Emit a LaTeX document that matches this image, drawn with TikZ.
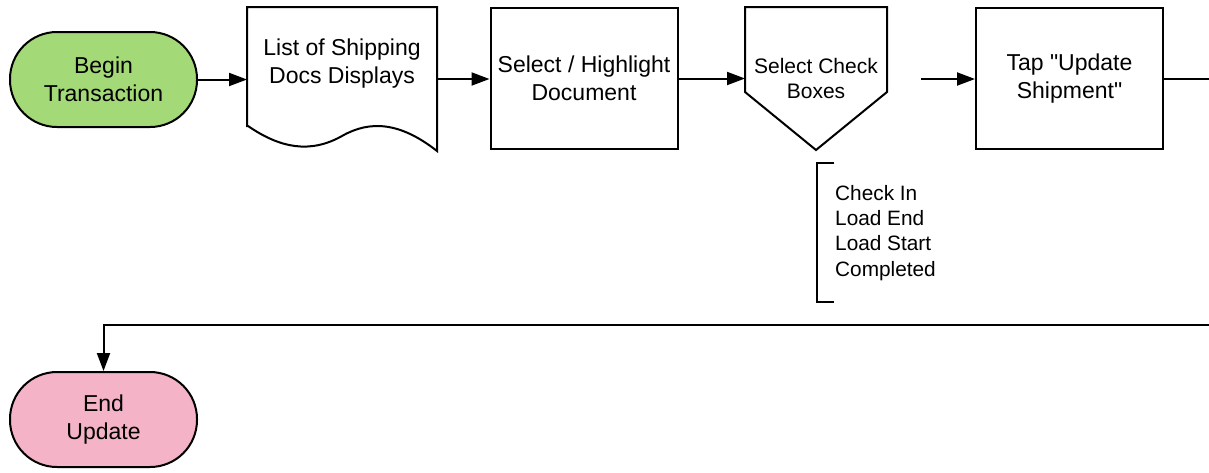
\documentclass[tikz,border=0pt]{standalone}
\usepackage{fontspec}
\setmainfont{Liberation Sans}
\newfontfamily\qfont{Liberation Sans}
\usetikzlibrary{arrows.meta,calc}
\definecolor{begingreen}{HTML}{A3D977}
\definecolor{endpink}{HTML}{F4B3C7}
\tikzset{
  base/.style={line width=2pt, font=\fontsize{23}{28}\selectfont, align=center, inner sep=0pt},
  terminal/.style={base, draw, rounded corners=47pt, minimum width=187pt, minimum height=95pt},
  procbox/.style={base, draw, minimum width=187pt, minimum height=141pt},
  frame/.style={base, minimum width=188pt, minimum height=142pt},
  shapeline/.style={line width=2pt, line join=miter},
  flow/.style={line width=2pt, -{Triangle[length=18pt,width=13pt]}},
  plainflow/.style={line width=2pt},
  notetext/.style={font=\fontsize{20.8}{25.3}\selectfont, align=left, inner sep=0pt},
}
\begin{document}
\begin{tikzpicture}[x=1pt,y=-1pt]
\useasboundingbox (0,0) rectangle (1209,472);
% nodes
\node[terminal, fill=begingreen] (begin) at (103.5,79.5) {Begin\\Transaction};
\node[frame] (list) at (342,79) {};
\node[base] (listtext) at (342,64) {List of Shipping\\Docs Displays};
\node[procbox] (sel) at (584,78.5) {Select / Highlight\\Document};
\node[base, minimum width=140pt, minimum height=141pt, font=\fontsize{21}{25}\selectfont] (chk) at (816,78.5) {Select Check\\Boxes};
\node[procbox] (tap) at (1069.5,78.5) {Tap {\qfont"}Update\\Shipment{\qfont"}};
\node[terminal, fill=endpink] (end) at (103.5,419.5) {End\\Update};
\node[notetext, anchor=north west] (note) at (835,185) {Check In\\Load End\\Load Start\\Completed};
% document shape
\draw[shapeline] (list.south west |- 0,126) -- (list.north west) -- (list.north east) -- (list.south east)
  .. controls (400,122) and (370,120) .. (342,136)
  .. controls (310,154) and (280,148) .. (248,126) -- cycle;
% off-page shape
\draw[shapeline] (chk.north west) -- (chk.north east) -- ($(chk.north east)+(0,85)$) -- (chk.south) -- ($(chk.north west)+(0,85)$) -- cycle;
% annotation bracket
\draw[plainflow] ($(note.west)+(-1,-69.5)$) -- ($(note.west)+(-18,-69.5)$) -- ($(note.west)+(-18,69.5)$) -- ($(note.west)+(-1,69.5)$);
% connectors
\coordinate (gapstart) at (921,79);
\coordinate (rightout) at (1209,79);
\coordinate (rightin) at (1209,325);
\draw[flow] (begin.east) -- (begin.east -| list.west);
\draw[flow] (list.east) -- (list.east -| sel.west);
\draw[flow] (sel.east) -- (chk.west);
\draw[flow] (gapstart) -- (gapstart -| tap.west);
\draw[plainflow] (tap.east |- rightout) -- (rightout);
\draw[flow] (rightin) -| (end.north);
\end{tikzpicture}
\end{document}
